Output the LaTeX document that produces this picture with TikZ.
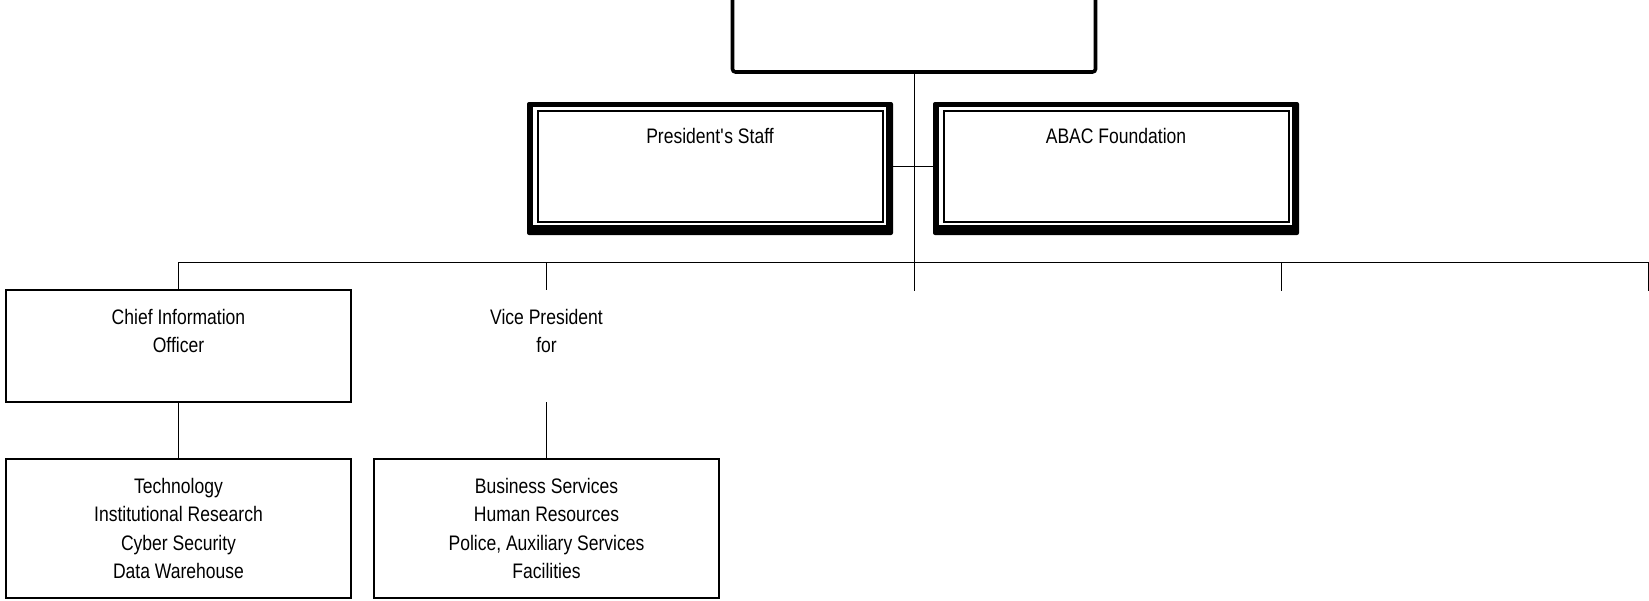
\documentclass[tikz,border=0pt]{standalone}
\usepackage{fontspec}
\setmainfont{Liberation Sans}[FakeStretch=0.835]
\tikzset{
  every node/.style={font=\fontsize{21pt}{28.5pt}\selectfont, inner sep=0pt},
  conn/.style={line width=1pt, black},
  plainbox/.style={rectangle, draw=black, line width=1.8pt},
  nobox/.style={rectangle},
  topbox/.style={rectangle, draw=black, line width=3.6pt, rounded corners=3pt,
    minimum width=363pt, minimum height=75pt},
  dbox/.style={rectangle, fill=black, rounded corners=2pt,
    minimum width=366pt, minimum height=133pt,
    text height=41pt, text depth=92pt,
    path picture={
      \fill[white, sharp corners] ([shift={(6pt,-5pt)}]path picture bounding box.north west)
        rectangle ([shift={(-7pt,10pt)}]path picture bounding box.south east);
      \draw[black, line width=1.2pt, sharp corners] ([shift={(11pt,-9pt)}]path picture bounding box.north west)
        rectangle ([shift={(-10pt,13pt)}]path picture bounding box.south east);
    }},
}
\begin{document}
\begin{tikzpicture}[x=1pt,y=-1pt]
\useasboundingbox (0,0) rectangle (1649,600);
\clip (0,0) rectangle (1649,600);

% top box (cut by the upper edge)
\node[topbox] (top) at (914,34.5) {};

% staff boxes
\node[dbox] (ps) at (710,168.5) {President\textquotesingle s Staff};
\node[dbox] (abac) at (1116,168.5) {ABAC Foundation};

% second level
\node[plainbox] (cio) at (178.5,346)
  {\parbox[c][112pt][t]{345pt}{\centering\rule{0pt}{34pt}Chief Information\\Officer}};
\node[nobox] (vp) at (546.5,346)
  {\parbox[c][112pt][t]{345pt}{\centering\rule{0pt}{34pt}Vice President\\for}};

% third level
\node[plainbox] (tech) at (178.5,528.5)
  {\parbox[c][139pt][c]{345pt}{\centering Technology\\Institutional Research\\Cyber Security\\Data Warehouse}};
\node[plainbox] (busi) at (546.5,528.5)
  {\parbox[c][139pt][c]{345pt}{\centering Business Services\\Human Resources\\Police, Auxiliary Services\\Facilities}};

% bus coordinates
\coordinate (b1) at (178.5,262);
\coordinate (b2) at (546.5,262);
\coordinate (b4) at (1281.2,262);
\coordinate (b5) at (1648.2,262);
\coordinate (s3) at (914,291);
\coordinate (s4) at (1281.2,291);
\coordinate (s5) at (1648.2,291);

% connectors
\draw[conn] (top.south) -- (s3);
\draw[conn] ([yshift=2.5pt]ps.east) -- ([yshift=2.5pt]abac.west);
\draw[conn] (cio.north) -- (b1) -- (b5) -- (s5);
\draw[conn] (b2) -- (vp.north);
\draw[conn] (b4) -- (s4);
\draw[conn] (cio.south) -- (tech.north);
\draw[conn] (vp.south) -- (busi.north);
\end{tikzpicture}
\end{document}
